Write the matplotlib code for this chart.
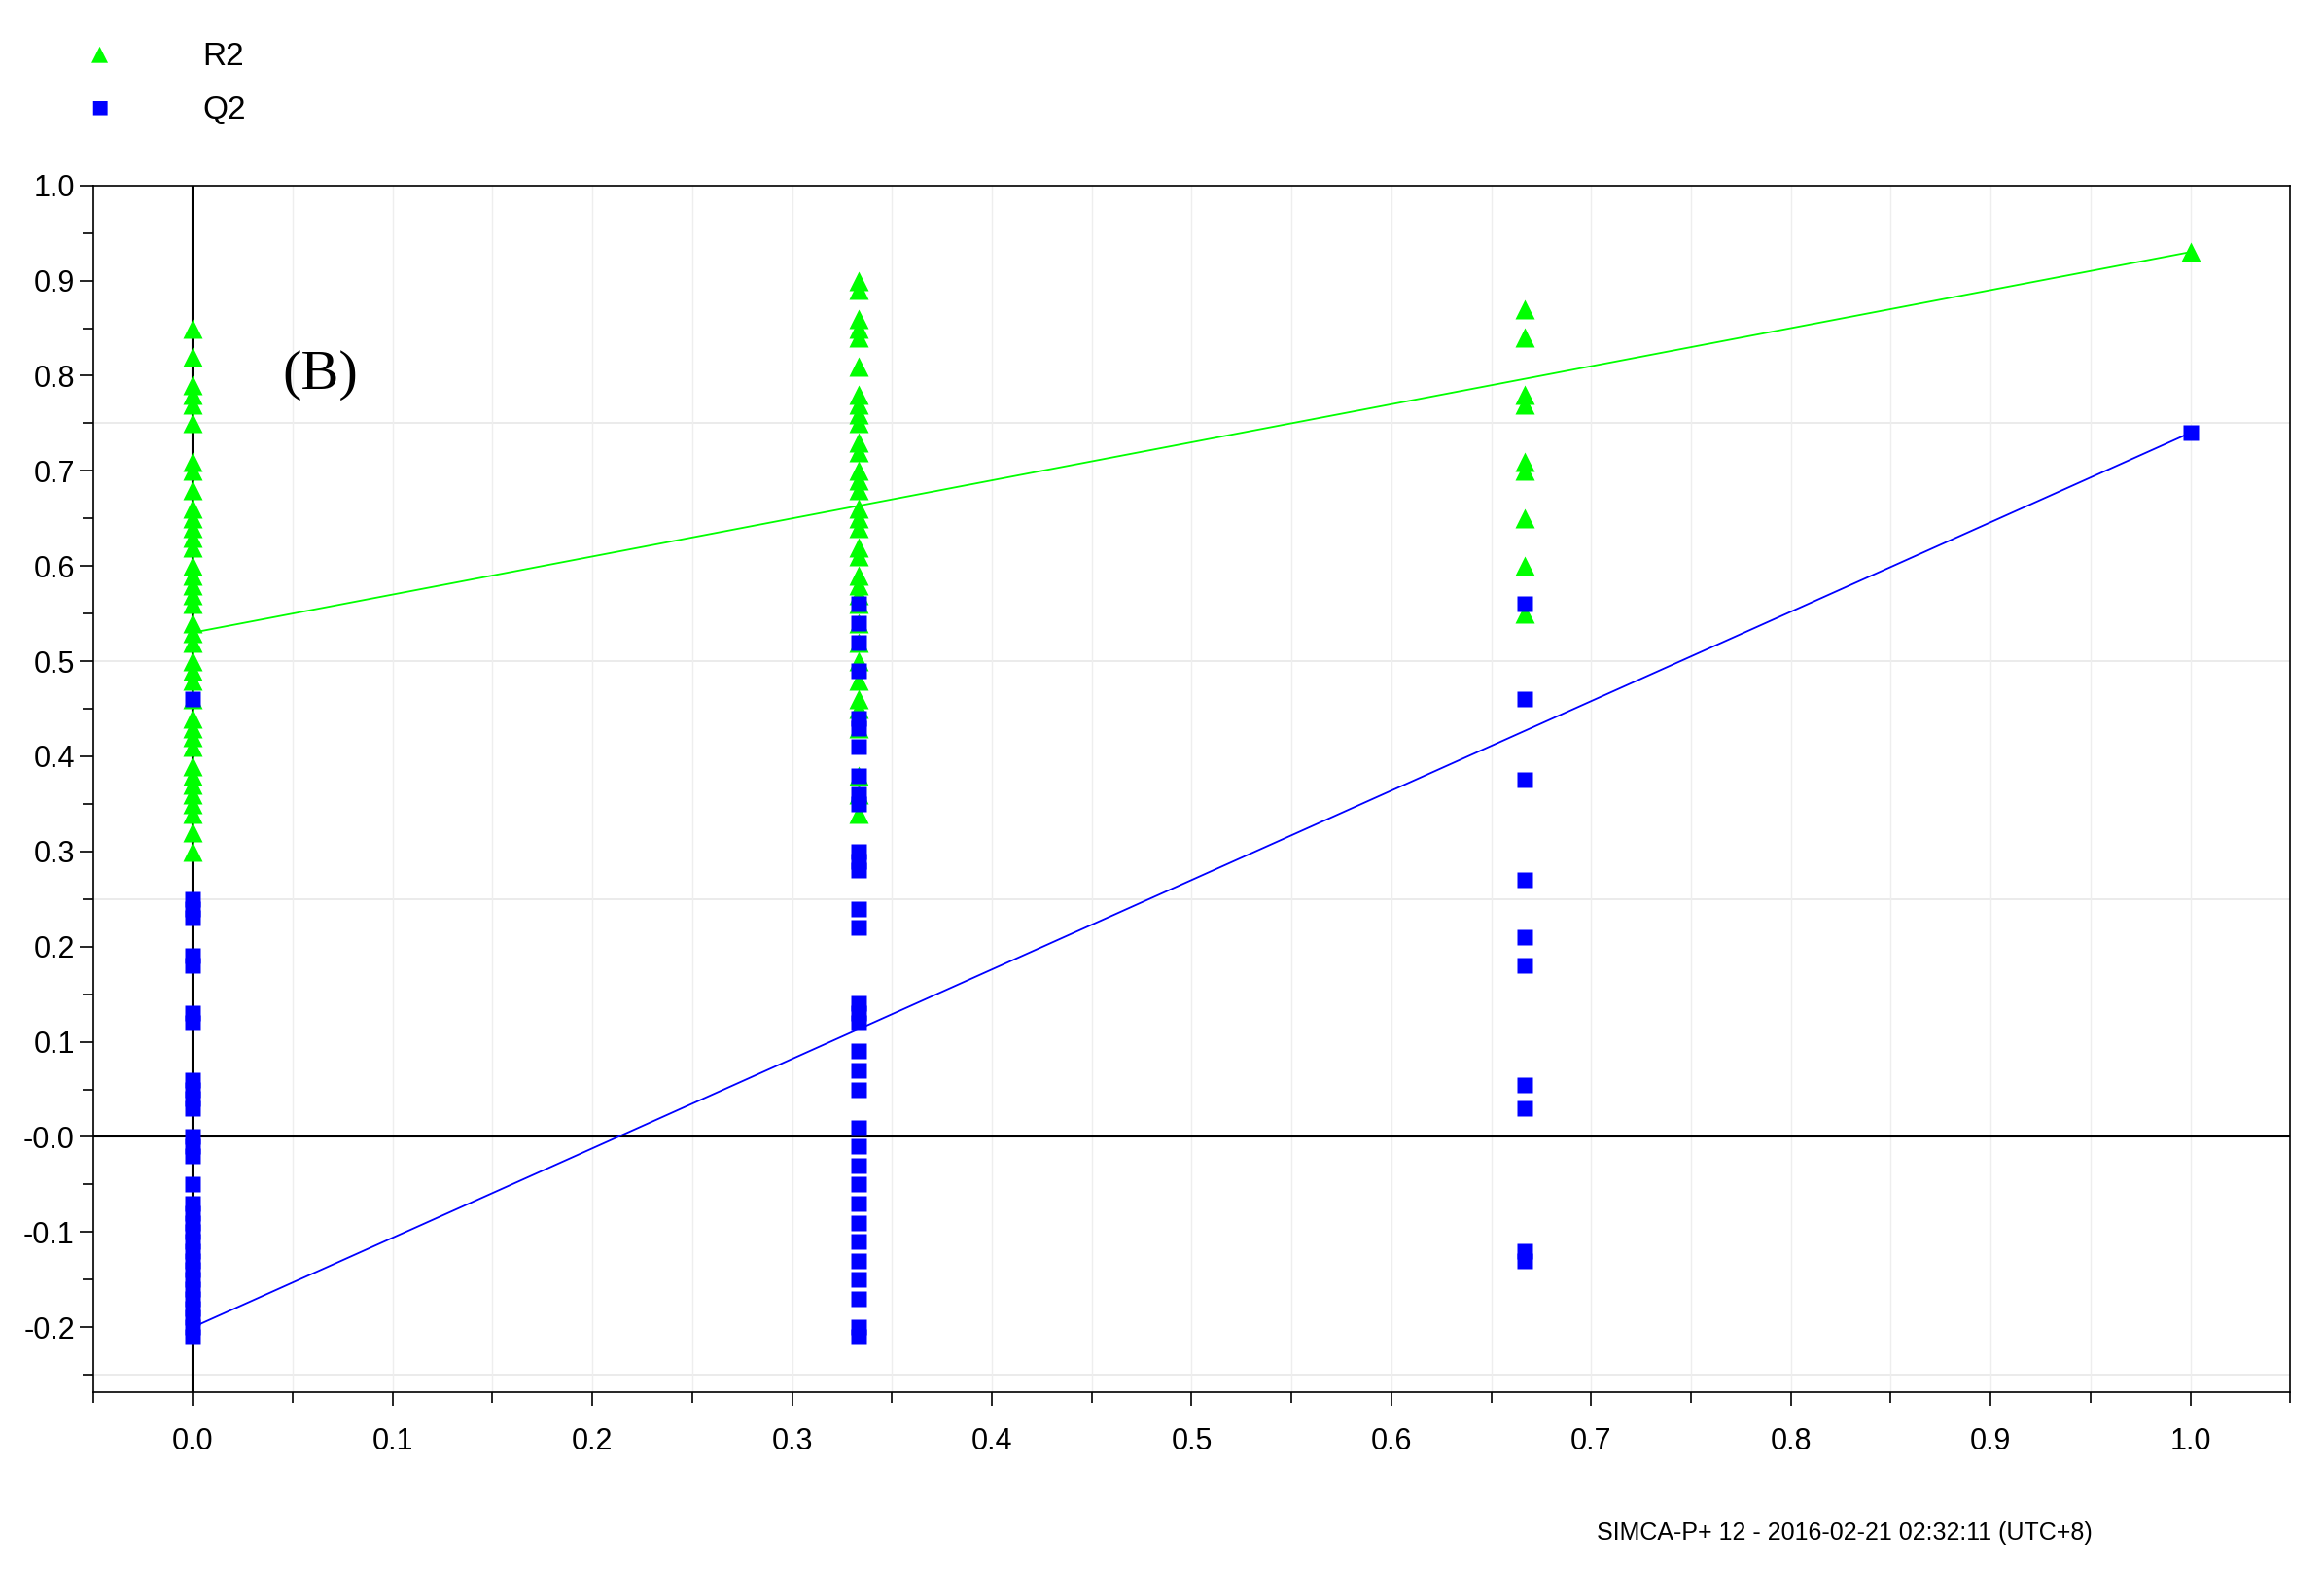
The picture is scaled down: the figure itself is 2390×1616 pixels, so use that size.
import matplotlib
matplotlib.use("Agg")
import matplotlib.pyplot as plt
from matplotlib.ticker import MultipleLocator
import numpy as np

x0_r2 = [0.85,0.82,0.79,0.78,0.77,0.75,0.71,0.70,0.68,0.66,0.65,0.64,0.63,0.62,0.60,0.59,0.58,0.57,0.56,0.54,0.53,0.52,0.50,0.49,0.48,0.46,0.44,0.43,0.42,0.41,0.39,0.38,0.37,0.36,0.35,0.34,0.32,0.30]
x0_q2 = [0.46,0.25,0.24,0.23,0.19,0.18,0.13,0.12,0.06,0.05,0.04,0.03,0.0,-0.01,-0.02,-0.05,-0.07,-0.08,-0.09,-0.10,-0.11,-0.12,-0.13,-0.14,-0.15,-0.16,-0.17,-0.18,-0.19,-0.20,-0.21]
x1_r2 = [0.90,0.89,0.86,0.85,0.84,0.81,0.78,0.77,0.76,0.75,0.73,0.72,0.70,0.69,0.68,0.66,0.65,0.64,0.62,0.61,0.59,0.58,0.57,0.56,0.54,0.52,0.50,0.48,0.46,0.45,0.43,0.38,0.36,0.34]
x1_q2 = [0.56,0.54,0.52,0.49,0.44,0.43,0.41,0.38,0.36,0.35,0.30,0.29,0.28,0.24,0.22,0.14,0.13,0.12,0.09,0.07,0.05,0.01,-0.01,-0.03,-0.05,-0.07,-0.09,-0.11,-0.13,-0.15,-0.17,-0.20,-0.21]
x2_r2 = [0.87,0.84,0.78,0.77,0.71,0.70,0.65,0.60,0.55]
x2_q2 = [0.56,0.46,0.375,0.27,0.21,0.18,0.055,0.03,-0.12,-0.13]
x3_r2 = [0.93]
x3_q2 = [0.74]
r2_line = [0.53, 0.93]
q2_line = [-0.20, 0.74]
xpos = [0.0, 1/3, 2/3, 1.0]

plt.rcParams['font.family'] = ['Liberation Sans Narrow', 'Liberation Sans', 'DejaVu Sans']

fig = plt.figure(figsize=(23.9, 16.16), dpi=100)
ax = fig.add_axes([0.040, 0.114, 0.9455, 0.768])
ax.set_xlim(-0.05, 1.05)
ax.set_ylim(-0.268, 1.0)

for xv, r, q in zip(xpos, [x0_r2, x1_r2, x2_r2, x3_r2], [x0_q2, x1_q2, x2_q2, x3_q2]):
    ax.plot([xv]*len(r), r, ls='none', marker='^', ms=14, color='#00ff00', mec='none', zorder=3)
    ax.plot([xv]*len(q), q, ls='none', marker='s', ms=11, color='#0000ff', mec='none', zorder=4)
ax.plot([0, 1], r2_line, color='#00ff00', lw=1.3, zorder=2)
ax.plot([0, 1], q2_line, color='#0000ff', lw=1.3, zorder=2)
ax.axhline(0, color='black', lw=1.5, zorder=1)
ax.axvline(0, color='black', lw=1.5, zorder=1)

ax.xaxis.set_minor_locator(MultipleLocator(0.05))
ax.yaxis.set_minor_locator(MultipleLocator(0.05))
xt = np.round(np.arange(0, 1.01, 0.1), 1)
ax.set_xticks(xt)
ax.set_xticklabels([f"{v:.1f}" for v in xt])
yt = np.round(np.arange(-0.2, 1.01, 0.1), 1)
ax.set_yticks(yt)
ax.set_yticklabels(["-0.0" if abs(v) < 1e-9 else f"{v:.1f}" for v in yt])
ax.tick_params(axis='both', which='major', labelsize=22, length=10, width=1.2)
ax.tick_params(axis='both', which='minor', length=8, width=1.2)
ax.tick_params(axis='x', pad=16)
for ln in np.arange(-0.25, 1.0, 0.25):
    ax.axhline(ln, color='#e8e8e8', lw=1.2, zorder=0)
for ln in np.arange(-0.05, 1.05, 0.05):
    ax.axvline(ln, color='#eeeeee', lw=1.0, zorder=0)
for s in ax.spines.values():
    s.set_linewidth(1.2)

ax.text(0.045, 0.80, "(B)", fontsize=42, family='Liberation Serif', va='center')

fig.text(0.043, 0.966, "▲", color='#00ff00', fontsize=16, ha='center', va='center', family='DejaVu Sans')
fig.text(0.087, 0.964, "R2", fontsize=24, va='center')
fig.text(0.043, 0.932, "■", color='#0000ff', fontsize=14, ha='center', va='center', family='DejaVu Sans')
fig.text(0.087, 0.930, "Q2", fontsize=24, va='center')
fig.text(0.687, 0.024, "SIMCA-P+ 12 - 2016-02-21 02:32:11 (UTC+8)", fontsize=18, va='center')

fig.savefig("out.png", dpi=100)
